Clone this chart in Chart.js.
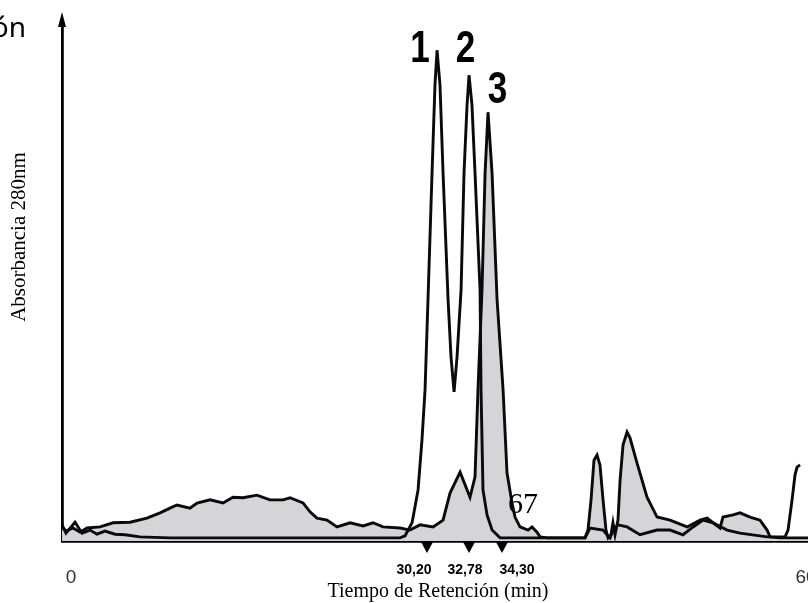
<!DOCTYPE html>
<html><head><meta charset="utf-8">
<script src="https://cdn.jsdelivr.net/npm/chart.js@4.4.0/dist/chart.umd.min.js"></script>
<style>html,body{margin:0;padding:0;background:#fff}#wrap{width:808px;height:603px}</style>
</head><body><div id="wrap"><canvas id="c" width="808" height="603"></canvas></div>
<script>
/* cromatograma — Absorbancia 280nm vs tiempo de retención */

// traza sin relleno (picos 1 y 2)
const timesA=[-0.73,-0.41,0.33,0.9,1.55,2.12,2.78,3.59,4.41,5.63,8.08,26.86,27.27,27.84,28.33,28.65,28.9,29.14,29.47,29.71,29.88,30.12,30.37,30.78,31.02,31.27,31.51,31.84,32.08,32.33,32.49,32.73,32.98,33.39,33.47,33.63,33.96,34.37,35.02,41.96,42.37,43.43,43.76,44.0,44.24,44.65,45.39,46.45,47.84,48.9,49.96,50.78,51.59,52.41,53.55,54.61,56.82,58.29,58.53,58.86,59.1,59.27,59.51];
const absA=[3.1,1.5,3.6,1.5,2.1,1.3,1.9,1.3,1.2,0.8,0.6,0.6,1.0,3.5,9.8,19.4,29.0,46.3,70.6,87.5,94.2,87.5,70.6,46.3,35.3,28.6,35.3,48.2,70.6,83.7,89.4,83.7,70.6,48.2,29.0,9.8,5.0,2.1,0.6,0.6,2.5,2.1,1.2,0.6,2.1,3.1,2.7,1.2,2.1,2.1,1.2,2.7,4.0,3.5,2.1,1.5,0.8,0.8,2.1,7.9,12.7,14.2,14.6];

// traza rellena en gris (pico 3)
const timesB=[-0.73,-0.41,0.16,0.73,1.31,2.37,3.43,4.82,6.2,7.27,8.08,8.65,9.71,10.29,11.35,12.41,13.22,14.04,15.18,16.24,17.31,17.88,18.94,19.51,20.08,20.9,21.71,22.78,23.84,24.65,25.47,26.86,27.67,28.49,29.55,30.37,30.94,31.76,32.57,32.98,33.22,33.55,33.8,34.04,34.37,34.78,35.27,35.59,36.0,36.24,36.65,37.31,37.63,38.04,38.29,38.86,41.96,42.2,42.45,42.69,42.94,43.18,43.43,43.67,43.84,44.08,44.24,44.41,44.65,44.82,45.06,45.39,45.63,46.2,47.02,47.84,48.9,50.29,51.35,51.92,52.41,52.98,53.22,54.04,54.61,55.43,56.24,56.82,57.06,57.88,60.16];
const absB=[2.7,1.9,2.5,1.7,2.5,2.7,3.5,3.6,4.4,5.4,6.3,6.9,6.3,7.3,7.9,7.3,8.4,8.3,8.8,7.9,7.9,8.3,7.3,5.6,4.4,4.0,2.7,3.5,2.9,3.5,2.7,2.5,2.1,3.1,2.7,4.0,9.2,13.2,8.4,12.3,29.0,48.2,70.6,82.3,70.6,46.3,29.0,13.1,7.3,4.6,2.7,2.1,2.7,1.7,0.8,0.6,0.6,2.1,7.9,15.5,16.5,14.6,7.9,2.1,0.6,1.2,3.5,1.2,4.0,11.7,18.4,20.9,19.8,15.0,8.4,4.6,4.0,2.7,4.0,4.4,3.5,2.5,4.6,5.0,5.4,4.6,4.0,2.1,0.8,0.6,0.6];

const xTickValues=[0,60];
const xTickLabels=['0','60'];
const markerTimes=[29.06,32.49,35.18];
const markerLabels=['30,20','32,78','34,30'];
const peakNames=['1','2','3'];

const pts=(xs,ys)=>xs.map((x,i)=>({x,y:ys[i]}));

const deco={
  id:'deco',
  afterDraw(chart,args,o){
    const ctx=chart.ctx,xs=chart.scales.x,ys=chart.scales.y,a=chart.chartArea;
    ctx.save();
    ctx.fillStyle='#000';
    // flecha del eje Y
    ctx.beginPath();ctx.moveTo(a.left,12);ctx.lineTo(a.left-4,27);ctx.lineTo(a.left+4,27);ctx.closePath();ctx.fill();
    // marcadores bajo el eje
    markerTimes.forEach((t,i)=>{
      const px=xs.getPixelForValue(t);
      ctx.beginPath();ctx.moveTo(px-6,a.bottom+1);ctx.lineTo(px+6,a.bottom+1);ctx.lineTo(px,a.bottom+12);ctx.closePath();ctx.fill();
      ctx.font='bold 14px "Liberation Sans", Arial';ctx.textAlign='center';ctx.textBaseline='middle';
      ctx.fillText(markerLabels[i],px+o.labelShift[i],570);
    });
    // etiquetas del eje X
    ctx.fillStyle='#333';ctx.font='19px "Liberation Sans Narrow", "Liberation Sans"';
    xTickValues.forEach((v,i)=>ctx.fillText(xTickLabels[i],xs.getPixelForValue(v),578));
    // números de pico (negrita estrecha)
    ctx.fillStyle='#000';ctx.font='bold 45px "Liberation Sans"';ctx.textBaseline='alphabetic';
    peakNames.forEach((n,i)=>{
      ctx.save();
      ctx.translate(xs.getPixelForValue(o.peakAt[i][0]),ys.getPixelForValue(o.peakAt[i][1]));
      ctx.scale(0.78,1);ctx.fillText(n,0,0);
      ctx.restore();
    });
    // "67"
    ctx.font='30px "Liberation Serif", serif';ctx.textAlign='left';
    ctx.fillText('67',xs.getPixelForValue(o.noteAt[0]),ys.getPixelForValue(o.noteAt[1]));
    // texto cortado arriba a la izquierda
    ctx.font='28px "Noto Sans", sans-serif';ctx.textAlign='right';
    ctx.fillText('ón',26,37);
    // títulos
    ctx.font='20px "Liberation Serif", serif';ctx.textAlign='center';ctx.textBaseline='middle';
    ctx.fillText('Tiempo de Retención (min)',438,592);
    ctx.font='21px "Liberation Serif", serif';
    ctx.translate(19,237);ctx.rotate(-Math.PI/2);
    ctx.fillText('Absorbancia 280nm',0,0);
    ctx.restore();
  }
};

new Chart(document.getElementById('c'),{
  type:'line',
  data:{datasets:[
    {label:'A',data:pts(timesA,absA),borderColor:'#0a0a0a',borderWidth:2.9,pointRadius:0,fill:false,tension:0,order:0},
    {label:'B',data:pts(timesB,absB),borderColor:'#0a0a0a',borderWidth:2.9,backgroundColor:'#d5d5d7',pointRadius:0,fill:'origin',tension:0,order:1}
  ]},
  options:{
    responsive:false,animation:false,
    layout:{padding:{top:20,left:0,right:0,bottom:0}},
    plugins:{legend:{display:false},tooltip:{enabled:false},
      deco:{labelShift:[-13,-4,15],peakAt:[[28.49,91.9],[32.2,91.9],[34.82,84.1]],noteAt:[35.67,5.4]}},
    scales:{
      x:{type:'linear',min:-0.735,max:60.16,grid:{display:false,drawTicks:false},border:{display:true,color:'#000',width:2.8},ticks:{display:false},
        afterFit(s){s.height=62;s.paddingLeft=0;s.paddingRight=0;}},
      y:{min:0,max:100,grid:{display:false,drawTicks:false},border:{display:true,color:'#000',width:2.8},ticks:{display:false},
        afterFit(s){s.width=62;s.paddingTop=0;s.paddingBottom=0;}}
    }
  },
  plugins:[deco]
});
</script></body></html>
